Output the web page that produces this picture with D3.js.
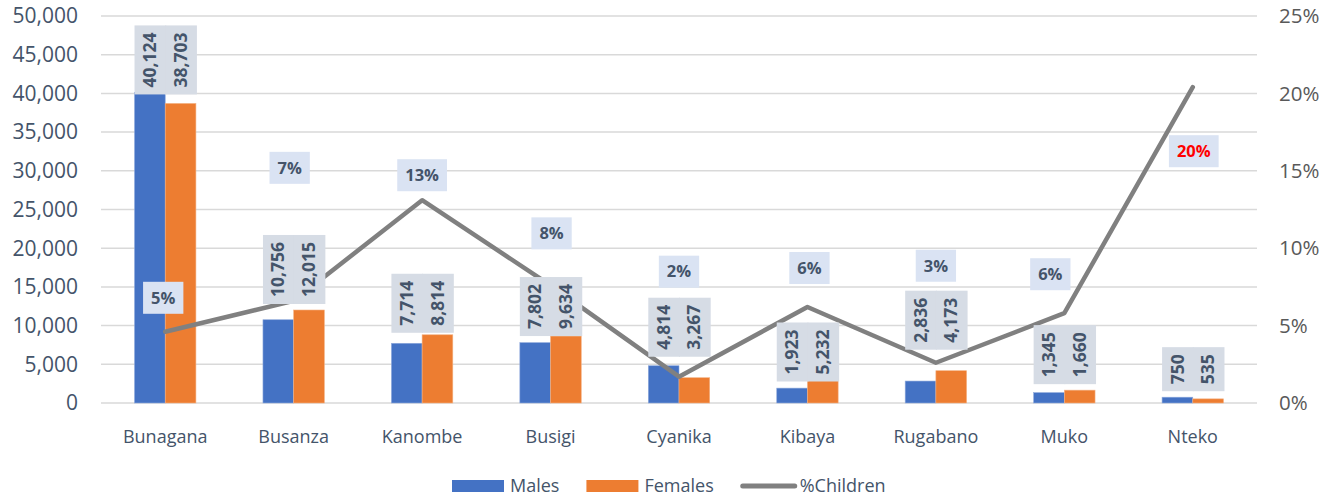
<!DOCTYPE html>
<meta charset="utf-8">
<head>
<script src="https://d3js.org/d3.v7.min.js"></script>
<style>
  body { margin: 0; background: #fff; font-family: "Open Sans", "Noto Sans", Arial, sans-serif; }
</style>
</head>
<body>
<svg></svg>
<script>
// data
var categories = ["Bunagana", "Busanza", "Kanombe", "Busigi", "Cyanika", "Kibaya", "Rugabano", "Muko", "Nteko"];
var males = [40124, 10756, 7714, 7802, 4814, 1923, 2836, 1345, 750];
var femaleLabels = [38703, 12015, 8814, 9634, 3267, 5232, 4173, 1660, 535];
// drawn female bars (Busigi bar is shorter than its label in the picture)
var females = [38703, 12015, 8814, 8650, 3267, 5232, 4173, 1660, 535];
var pctChildren = [0.046, 0.066, 0.131, 0.076, 0.017, 0.062, 0.026, 0.058, 0.204];
var leftTicks = [0, 5000, 10000, 15000, 20000, 25000, 30000, 35000, 40000, 45000, 50000];
var rightTicks = [0, 0.05, 0.10, 0.15, 0.20, 0.25];

// label nudges (labels were dragged by hand in the original)
var barLabelShift = [8, 0, 4, 6, -3, 25, -15, 0, 0];
var pctLabelDx = [-2, -4, 0, 1, 0, 2, 0, -14, 1];
var pctLabelDy = [-34, -133, -25, -52, -105, -39, -97, -39, 64];

var width = 1321, height = 500;
var plotLeft = 101, plotRight = 1257, plotTop = 16, plotBottom = 403;
var slate = "#44546a";

var svg = d3.select("svg").attr("width", width).attr("height", height);

var x = d3.scaleBand().domain(categories).range([plotLeft, plotRight]);
var y = d3.scaleLinear().domain([0, 50000]).range([plotBottom, plotTop]);
var y2 = d3.scaleLinear().domain([0, 0.25]).range([plotBottom, plotTop]);
var barW = 30.7;

// gridlines
svg.append("g").selectAll("line")
    .data(leftTicks)
    .enter().append("line")
    .attr("x1", plotLeft).attr("x2", plotRight)
    .attr("y1", function(d) { return y(d); })
    .attr("y2", function(d) { return y(d); })
    .attr("stroke", "#d9d9d9")
    .attr("stroke-width", 1.5);

// left axis labels
svg.append("g").selectAll("text")
    .data(leftTicks)
    .enter().append("text")
    .attr("x", 78)
    .attr("y", function(d) { return y(d); })
    .attr("dy", "0.35em")
    .attr("text-anchor", "end")
    .style("font-size", "21px")
    .style("fill", slate)
    .text(d3.format(","));

// right axis labels
svg.append("g").selectAll("text")
    .data(rightTicks)
    .enter().append("text")
    .attr("x", 1279)
    .attr("y", function(d) { return y2(d); })
    .attr("dy", "0.35em")
    .style("font-size", "20.5px")
    .style("fill", "#595959")
    .text(d3.format(".0%"));

// category labels
svg.append("g").selectAll("text")
    .data(categories)
    .enter().append("text")
    .attr("x", function(d) { return x(d) + x.bandwidth() / 2; })
    .attr("y", 437)
    .attr("dy", "0.35em")
    .attr("text-anchor", "middle")
    .style("font-size", "18px")
    .style("fill", slate)
    .text(function(d) { return d; });

// bars
var groups = svg.append("g").selectAll("g")
    .data(categories)
    .enter().append("g");

groups.append("rect")
    .attr("x", function(d) { return x(d) + x.bandwidth() / 2 - barW; })
    .attr("y", function(d, i) { return y(males[i]); })
    .attr("width", barW)
    .attr("height", function(d, i) { return y(0) - y(males[i]); })
    .attr("fill", "#4472c4")
    .attr("stroke", "#8faadc").attr("stroke-width", 0.6);

groups.append("rect")
    .attr("x", function(d) { return x(d) + x.bandwidth() / 2; })
    .attr("y", function(d, i) { return y(females[i]); })
    .attr("width", barW)
    .attr("height", function(d, i) { return y(0) - y(females[i]); })
    .attr("fill", "#ed7d31")
    .attr("stroke", "#f4b183").attr("stroke-width", 0.6);

// %Children line
var line = d3.line()
    .x(function(d, i) { return x(categories[i]) + x.bandwidth() / 2; })
    .y(function(d) { return y2(d); });

svg.append("path")
    .datum(pctChildren)
    .attr("d", line)
    .attr("fill", "none")
    .attr("stroke", "#808080")
    .attr("stroke-width", 4.5)
    .attr("stroke-linejoin", "round")
    .attr("stroke-linecap", "round");

// bar labels (rotated, in grey boxes)
function barLabel(values, offset) {
    categories.forEach(function(c, i) {
        var cx = x(c) + x.bandwidth() / 2 + offset * barW / 2;
        var base = y(Math.max(males[i], females[i])) - 6 + barLabelShift[i];
        var g = svg.append("g");
        var t = g.append("text")
            .attr("text-anchor", "middle")
            .attr("dy", "0.35em")
            .style("font-size", "17.5px")
            .style("font-weight", "bold")
            .style("fill", slate)
            .text(d3.format(",")(values[i]));
        var len = t.node().getComputedTextLength() + 14;
        g.insert("rect", "text")
            .attr("x", -len / 2).attr("y", -barW / 2)
            .attr("width", len).attr("height", barW + 1)
            .attr("fill", "#d6dce5");
        g.attr("transform", "translate(" + cx + "," + (base - len / 2) + ")rotate(-90)");
    });
}
barLabel(males, -1);
barLabel(femaleLabels, 1);

// percent labels
pctChildren.forEach(function(p, i) {
    var cx = x(categories[i]) + x.bandwidth() / 2 + pctLabelDx[i];
    var cy = y2(p) + pctLabelDy[i];
    var g = svg.append("g").attr("transform", "translate(" + cx + "," + cy + ")");
    var t = g.append("text")
        .attr("text-anchor", "middle")
        .attr("dy", "0.35em")
        .style("font-size", "16.5px")
        .style("font-weight", "bold")
        .style("fill", i === pctChildren.length - 1 ? "#ff0000" : slate)
        .text(d3.format(".0%")(p));
    var w = t.node().getComputedTextLength() + 16;
    g.insert("rect", "text")
        .attr("x", -w / 2).attr("y", -16)
        .attr("width", w).attr("height", 32)
        .attr("fill", "#dae3f3");
});

// legend
var legend = svg.append("g").attr("transform", "translate(452,486)");
var lx = 0;
[["Males", "#4472c4", "rect"], ["Females", "#ed7d31", "rect"], ["%Children", "#808080", "line"]].forEach(function(d) {
    if (d[2] === "rect") {
        legend.append("rect").attr("x", lx).attr("y", -6).attr("width", 52).attr("height", 12).attr("fill", d[1]);
        lx += 58;
    } else {
        legend.append("line").attr("x1", lx + 2).attr("x2", lx + 54).attr("y1", 0).attr("y2", 0)
            .attr("stroke", d[1]).attr("stroke-width", 5).attr("stroke-linecap", "round");
        lx += 59;
    }
    var t = legend.append("text")
        .attr("x", lx).attr("dy", "0.35em")
        .style("font-size", "18px")
        .style("fill", slate)
        .text(d[0]);
    lx += t.node().getComputedTextLength() + 27;
});
</script>
</body>
</html>
